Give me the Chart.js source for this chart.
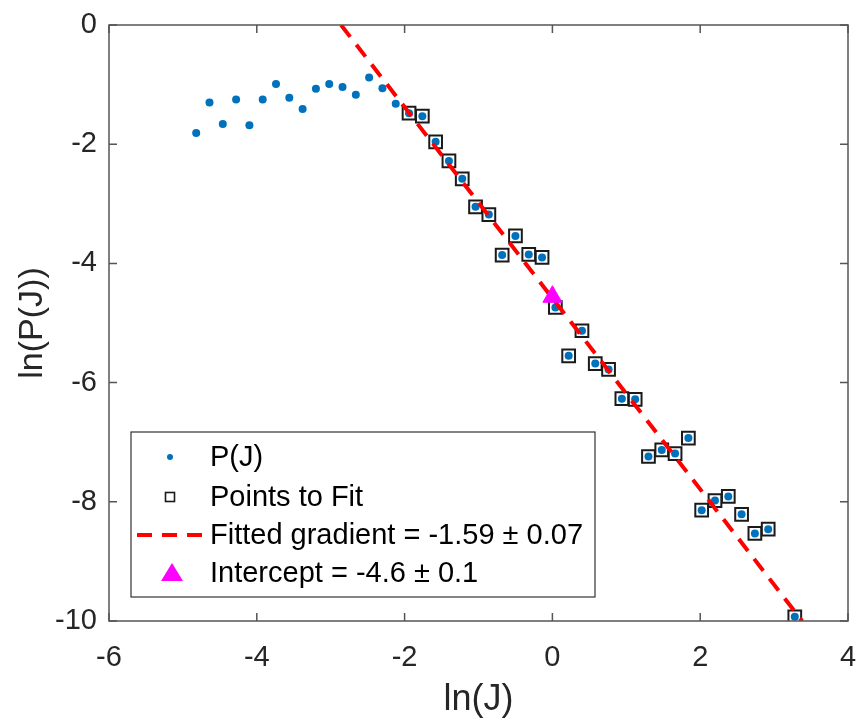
<!DOCTYPE html>
<html>
<head>
<meta charset="utf-8">
<script src="https://cdn.jsdelivr.net/npm/chart.js@4.4.1/dist/chart.umd.min.js"></script>
<style>
  html, body { margin: 0; padding: 0; background: #fff; }
  canvas { display: block; }
</style>
</head>
<body>
<canvas id="chart" width="860" height="722"></canvas>
<script>
// ln(J) and ln(P(J))
const lnJ = [-4.82, -4.64, -4.46, -4.28, -4.10, -3.92, -3.74, -3.56, -3.38, -3.20,
             -3.02, -2.84, -2.66, -2.48, -2.30, -2.12, -1.94, -1.76, -1.58, -1.40,
             -1.22, -1.04, -0.86, -0.68, -0.50, -0.32, -0.14, 0.04, 0.22, 0.40,
             0.58, 0.76, 0.94, 1.12, 1.30, 1.48, 1.66, 1.84, 2.02, 2.20,
             2.38, 2.56, 2.74, 2.92, 3.28];
const lnP = [-1.81, -1.30, -1.66, -1.25, -1.68, -1.25, -0.99, -1.22, -1.41, -1.07,
             -0.99, -1.04, -1.17, -0.88, -1.06, -1.32, -1.48, -1.53, -1.96, -2.28,
             -2.58, -3.05, -3.18, -3.86, -3.54, -3.85, -3.90, -4.74, -5.55, -5.13,
             -5.68, -5.78, -6.27, -6.28, -7.24, -7.13, -7.19, -6.93, -8.14, -7.98,
             -7.91, -8.21, -8.53, -8.46, -9.93];
// points used in the fit start here
const fitStart = 16;

// fitted line end points and intercept
const fitLineJ = [-2.86, 3.38];
const fitLineP = [0, -10];
const interceptJ = [0];
const interceptP = [-4.56];

const xTicks = [-6, -4, -2, 0, 2, 4];
const yTicks = [-10, -8, -6, -4, -2, 0];

const legendLabels = ['P(J)', 'Points to Fit', 'Fitted gradient = -1.59 \u00b1 0.07', 'Intercept = -4.6 \u00b1 0.1'];

const FONT = "'Liberation Sans', Arial, Helvetica, sans-serif";
const TEXT = '#262626';
const AXIS = '#555555';

function pts(xs, ys) {
    return xs.map((x, i) => ({ x: x, y: ys[i] }));
}

// box + inward ticks on all four sides, like matlab
const boxPlugin = {
    id: 'box',
    afterDraw(chart) {
        const ctx = chart.ctx;
        const a = chart.chartArea;
        const xs = chart.scales.x, ys = chart.scales.y;
        const tl = 8;
        ctx.save();
        ctx.strokeStyle = AXIS;
        ctx.lineWidth = 1.5;
        ctx.strokeRect(a.left, a.top, a.right - a.left, a.bottom - a.top);
        ctx.beginPath();
        xTicks.forEach(v => {
            const px = xs.getPixelForValue(v);
            ctx.moveTo(px, a.bottom); ctx.lineTo(px, a.bottom - tl);
            ctx.moveTo(px, a.top); ctx.lineTo(px, a.top + tl);
        });
        yTicks.forEach(v => {
            const py = ys.getPixelForValue(v);
            ctx.moveTo(a.left, py); ctx.lineTo(a.left + tl, py);
            ctx.moveTo(a.right, py); ctx.lineTo(a.right - tl, py);
        });
        ctx.stroke();
        ctx.restore();
    }
};

// legend box in lower left corner
const legendPlugin = {
    id: 'boxLegend',
    afterDraw(chart) {
        const ctx = chart.ctx;
        const bx = 131, by = 432, bw = 464, bh = 165;
        const rows = [457, 497, 535, 573];
        const mx = 170, tx = 210;
        ctx.save();
        ctx.fillStyle = '#ffffff';
        ctx.fillRect(bx, by, bw, bh);
        ctx.strokeStyle = '#333333';
        ctx.lineWidth = 1.2;
        ctx.strokeRect(bx, by, bw, bh);

        // P(J) dot
        ctx.fillStyle = '#0072BD';
        ctx.beginPath();
        ctx.arc(mx, rows[0], 3, 0, Math.PI * 2);
        ctx.fill();

        // square
        ctx.strokeStyle = '#1a1a1a';
        ctx.lineWidth = 1.6;
        ctx.strokeRect(mx - 4.5, rows[1] - 4.5, 9, 9);

        // dashed red line
        ctx.strokeStyle = '#ff0000';
        ctx.lineWidth = 4;
        ctx.setLineDash([15, 10]);
        ctx.beginPath();
        ctx.moveTo(137, rows[2]);
        ctx.lineTo(205, rows[2]);
        ctx.stroke();
        ctx.setLineDash([]);

        // triangle
        ctx.fillStyle = '#ff00ff';
        ctx.beginPath();
        ctx.moveTo(mx + 2, rows[3] - 10);
        ctx.lineTo(mx + 13, rows[3] + 8);
        ctx.lineTo(mx - 9, rows[3] + 8);
        ctx.closePath();
        ctx.fill();

        ctx.fillStyle = '#000000';
        ctx.font = '29px ' + FONT;
        ctx.textAlign = 'left';
        ctx.textBaseline = 'middle';
        legendLabels.forEach((t, i) => ctx.fillText(t, tx, rows[i] + 1));
        ctx.restore();
    }
};

new Chart(document.getElementById('chart').getContext('2d'), {
    type: 'scatter',
    data: {
        datasets: [
            {
                label: 'Intercept',
                data: pts(interceptJ, interceptP),
                pointStyle: 'triangle',
                pointRadius: 11,
                backgroundColor: '#ff00ff',
                borderColor: '#ff00ff',
                borderWidth: 1,
                order: 0
            },
            {
                label: 'Fitted gradient',
                data: pts(fitLineJ, fitLineP),
                showLine: true,
                pointRadius: 0,
                borderColor: '#ff0000',
                borderWidth: 4,
                borderDash: [15, 10],
                order: 1
            },
            {
                label: 'Points to Fit',
                data: pts(lnJ.slice(fitStart), lnP.slice(fitStart)),
                pointStyle: 'rect',
                pointRadius: 9,
                backgroundColor: 'rgba(0,0,0,0)',
                borderColor: '#1a1a1a',
                borderWidth: 2,
                order: 2
            },
            {
                label: 'P(J)',
                data: pts(lnJ, lnP),
                pointStyle: 'circle',
                pointRadius: 4,
                backgroundColor: '#0072BD',
                borderWidth: 0,
                order: 3
            }
        ]
    },
    options: {
        responsive: false,
        animation: false,
        layout: { padding: { left: 0, right: 11, top: 25, bottom: 0 } },
        plugins: {
            legend: { display: false },
            tooltip: { enabled: false }
        },
        scales: {
            x: {
                type: 'linear',
                min: -6, max: 4,
                afterBuildTicks: s => { s.ticks = xTicks.map(v => ({ value: v })); },
                afterFit: s => { s.height = 722 - 621; s.paddingLeft = 0; s.paddingRight = 0; },
                grid: { display: false, drawTicks: false },
                border: { display: false },
                ticks: { color: TEXT, font: { family: FONT, size: 29 }, padding: 20 },
                title: { display: true, text: 'ln(J)', color: TEXT, font: { family: FONT, size: 36 }, padding: { top: 0, bottom: 0 } }
            },
            y: {
                type: 'linear',
                min: -10, max: 0,
                afterBuildTicks: s => { s.ticks = yTicks.map(v => ({ value: v })); },
                afterFit: s => { s.width = 109; s.paddingTop = 0; s.paddingBottom = 0; },
                grid: { display: false, drawTicks: false },
                border: { display: false },
                ticks: { color: TEXT, font: { family: FONT, size: 29 }, padding: 12 },
                title: { display: true, text: 'ln(P(J))', color: TEXT, font: { family: FONT, size: 34 }, padding: { top: 12, bottom: 0 } }
            }
        }
    },
    plugins: [boxPlugin, legendPlugin]
});
</script>
</body>
</html>
